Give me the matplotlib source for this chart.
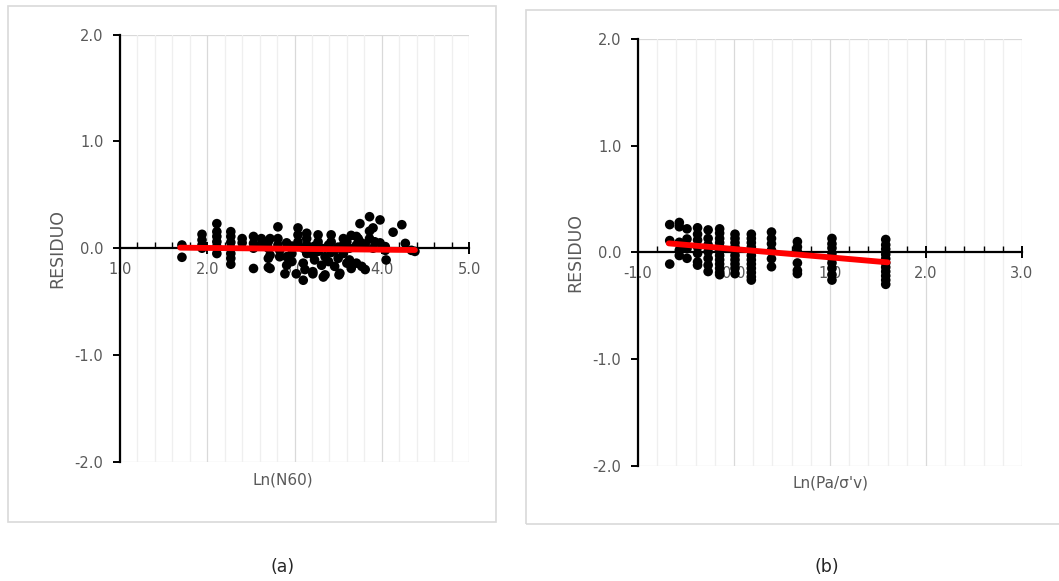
import matplotlib
matplotlib.use("Agg")
import matplotlib.pyplot as plt
import numpy as np
from matplotlib.patches import Rectangle
from matplotlib.ticker import MultipleLocator, FormatStrFormatter

plt.rcParams['font.family'] = ['DejaVu Sans']

# ---- panel (a): residual vs Ln(N60) ----
a_x = [1.71, 1.71,
       1.94, 1.94, 1.94, 1.94,
       2.11, 2.11, 2.11, 2.11, 2.11, 2.11,
       2.27, 2.27, 2.27, 2.27, 2.27, 2.27, 2.27,
       2.40, 2.40,
       2.53, 2.53, 2.53, 2.53,
       2.62, 2.62,
       2.70, 2.70, 2.70, 2.70,
       2.72, 2.72, 2.72,
       2.81, 2.81, 2.81,
       2.83, 2.83,
       2.89,
       2.91, 2.91, 2.91,
       2.97, 2.97, 2.97,
       3.02,
       3.04, 3.04, 3.04,
       3.10, 3.10, 3.10,
       3.12,
       3.14, 3.14, 3.14, 3.14,
       3.21, 3.21, 3.21,
       3.23, 3.23,
       3.27, 3.27, 3.27,
       3.31, 3.31,
       3.33,
       3.35, 3.35,
       3.39, 3.39,
       3.42, 3.42, 3.42,
       3.46, 3.46,
       3.50, 3.50,
       3.51, 3.52,
       3.56, 3.56, 3.56,
       3.60, 3.60,
       3.63, 3.63,
       3.65, 3.65,
       3.71, 3.71, 3.71,
       3.73, 3.73,
       3.75, 3.75,
       3.77,
       3.81, 3.81,
       3.86, 3.86, 3.86,
       3.90, 3.90,
       3.92,
       3.98, 3.98,
       4.04, 4.04,
       4.05,
       4.13,
       4.23,
       4.27,
       4.34,
       4.38]
a_y = [0.03, -0.085,
       0.13, 0.077, 0.03, 0.0,
       0.23, 0.155, 0.11, 0.06, 0.015, -0.05,
       0.155, 0.11, 0.055, 0.0, -0.05, -0.095, -0.15,
       0.09, 0.05,
       0.11, 0.045, 0.0, -0.19,
       0.09, 0.03,
       0.06, 0.0, -0.095, -0.18,
       0.09, -0.065, -0.19,
       0.20, 0.09, 0.03,
       -0.08, -0.02,
       -0.24,
       -0.08, 0.05, -0.16,
       -0.125, 0.02, -0.05,
       -0.24,
       0.19, 0.125, 0.06,
       -0.14, -0.30, 0.0,
       -0.20,
       0.14, 0.09, 0.03, -0.05,
       -0.22, -0.06, -0.24,
       -0.11, 0.02,
       0.125, 0.06, -0.03,
       -0.16, 0.0,
       -0.27,
       -0.25, -0.08,
       -0.125, 0.03,
       0.125, 0.06, -0.04,
       -0.17, -0.02,
       -0.095, 0.01,
       -0.25, -0.235,
       0.09, 0.03, -0.05,
       -0.14, 0.06,
       -0.11, 0.0,
       -0.19, 0.12,
       0.11, -0.14, 0.03,
       0.015, 0.09,
       0.23, 0.06,
       -0.17,
       -0.20, 0.04,
       0.295, 0.09, 0.16,
       0.19, 0.0,
       0.06,
       0.265, 0.05,
       0.015, -0.02,
       -0.11,
       0.15,
       0.22,
       0.045,
       -0.02,
       -0.03]
a_fit_x = [1.69, 4.38]
a_fit_y = [0.005, -0.017]

# ---- panel (b): residual vs Ln(Pa/σ'v) ----
b_cols = [-0.67, -0.57, -0.49, -0.38, -0.27, -0.15, 0.01, 0.18, 0.39, 0.66, 1.02, 1.58]
b_vals = [
    [0.26, 0.11, -0.11],
    [0.28, 0.24, 0.094, 0.02, -0.03],
    [0.22, 0.125, 0.035, -0.056],
    [0.23, 0.17, 0.115, 0.05, -0.01, -0.09, -0.12],
    [0.21, 0.13, 0.07, 0.005, -0.057, -0.12, -0.18],
    [0.22, 0.18, 0.13, 0.09, 0.05, 0.01, -0.03, -0.07, -0.11, -0.15, -0.19, -0.21],
    [0.17, 0.13, 0.09, 0.05, 0.01, -0.03, -0.07, -0.11, -0.15, -0.20],
    [0.17, 0.13, 0.09, 0.05, 0.01, -0.03, -0.07, -0.11, -0.15, -0.19, -0.23, -0.26],
    [0.19, 0.13, 0.08, 0.02, -0.06, -0.135],
    [0.10, 0.05, 0.005, -0.10, -0.17, -0.20],
    [0.13, 0.08, 0.04, -0.01, -0.056, -0.10, -0.15, -0.21, -0.26],
    [0.12, 0.07, 0.03, -0.02, -0.06, -0.10, -0.14, -0.18, -0.22, -0.26, -0.30],
]
b_fit_x = [-0.68, 1.60]
b_fit_y = [0.084, -0.094]

y_ticks = [-2.0, -1.0, 0.0, 1.0, 2.0]

GRAY_TXT = '#595959'
GRID_MINOR = '#efefef'
GRID_MAJOR = '#d9d9d9'

fig = plt.figure(figsize=(10.59, 5.81), dpi=100)

# panel frames
fig.patches.append(Rectangle((0.0076, 0.1015), 0.4608, 0.888, transform=fig.transFigure,
                             fill=False, edgecolor='#d9d9d9', linewidth=1.2))
fig.patches.append(Rectangle((0.4967, 0.0981), 0.52, 0.8847, transform=fig.transFigure,
                             fill=False, edgecolor='#d9d9d9', linewidth=1.2))


def build_panel(rect, xlim, xs, ys, fx, fy, xlabel, label_xy):
    ax = fig.add_axes(rect)
    ax.set_xlim(*xlim)
    ax.set_ylim(-2.0, 2.0)
    for side in ('top', 'right'):
        ax.spines[side].set_visible(False)
    ax.spines['bottom'].set_position(('data', 0.0))
    ax.spines['bottom'].set_linewidth(1.6)
    ax.spines['left'].set_linewidth(1.6)
    ax.spines['bottom'].set_zorder(2)

    ax.xaxis.set_major_locator(MultipleLocator(1.0))
    ax.xaxis.set_minor_locator(MultipleLocator(0.2))
    ax.xaxis.set_major_formatter(FormatStrFormatter('%.1f'))
    ax.set_yticks(y_ticks)
    ax.yaxis.set_major_formatter(FormatStrFormatter('%.1f'))

    ax.tick_params(axis='x', which='major', direction='inout', length=8, width=1.4,
                   labelsize=10.5, labelcolor=GRAY_TXT, pad=6)
    ax.tick_params(axis='x', which='minor', direction='in', length=4, width=1.0)
    ax.tick_params(axis='y', which='major', direction='out', length=5, width=1.4,
                   labelsize=10.5, labelcolor=GRAY_TXT, pad=7)

    ax.grid(True, axis='x', which='minor', color=GRID_MINOR, linewidth=0.9, zorder=0)
    ax.grid(True, axis='x', which='major', color=GRID_MAJOR, linewidth=0.9, zorder=0)
    ax.set_axisbelow(True)
    for yv in (2.0, -2.0):
        ax.axhline(yv, color=GRID_MAJOR, linewidth=0.9, zorder=0)

    ax.scatter(xs, ys, s=48, color='black', edgecolors='none', zorder=3)
    ax.plot(fx, fy, color='#ff0000', linewidth=4.2, solid_capstyle='round', zorder=4)

    ax.set_ylabel('RESIDUO', fontsize=12.5, color=GRAY_TXT, labelpad=6)
    fig.text(label_xy[0], label_xy[1], xlabel, fontsize=11, color=GRAY_TXT,
             ha='center', va='center')
    return ax


b_x = np.concatenate([[c] * len(v) for c, v in zip(b_cols, b_vals)])
b_y = np.concatenate(b_vals)

build_panel([0.1133, 0.2053, 0.3296, 0.735], (1.0, 5.0), a_x, a_y, a_fit_x, a_fit_y,
            'Ln(N60)', (283 / 1059, 1 - 480 / 581))
build_panel([0.6025, 0.1985, 0.3626, 0.7344], (-1.0, 3.0), b_x, b_y, b_fit_x, b_fit_y,
            "Ln(Pa/σ'v)", (830 / 1059, 1 - 483 / 581))

fig.text(283 / 1059, 1 - 567 / 581, '(a)', fontsize=12.5, color='#262626', ha='center', va='center')
fig.text(827 / 1059, 1 - 567 / 581, '(b)', fontsize=12.5, color='#262626', ha='center', va='center')

fig.savefig('out.png', dpi=100)
